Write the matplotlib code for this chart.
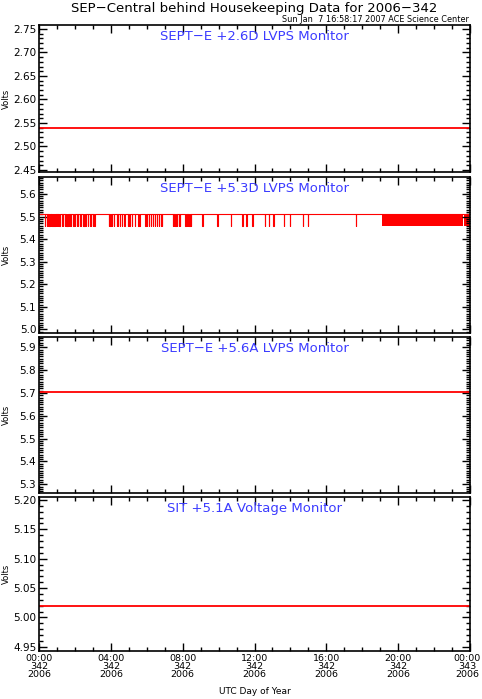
#!/usr/bin/env python3
# SEP-Central behind housekeeping voltages, day 2006-342

import matplotlib
matplotlib.use('Agg')
import matplotlib.pyplot as plt
import matplotlib.transforms as mtransforms
import numpy as np
from matplotlib.ticker import MultipleLocator

# ---- data -------------------------------------------------------------
hours = [0.0, 24.0]

titles = ['SEPT\u2212E +2.6D LVPS Monitor',
          'SEPT\u2212E +5.3D LVPS Monitor',
          'SEPT\u2212E +5.6A LVPS Monitor',
          'SIT +5.1A Voltage Monitor']

ylims = [(2.4457, 2.7585), (4.984, 5.675), (5.262, 5.945), (4.943, 5.205)]
ymajor = [0.05, 0.1, 0.1, 0.05]
yminor = [0.01, 0.01, 0.01, 0.01]
yfmt = ['%.2f', '%.1f', '%.1f', '%.2f']

# flat monitors
level_26d = 2.54
level_56a = 5.705
level_51a = 5.02

# +5.3D monitor toggles between two readings
hi_53d = 5.513
lo_53d = 5.459
dip_width = 0.012  # hours
dip_times = [0.33, 0.42, 0.49, 0.58, 0.66, 0.74, 0.86, 0.93, 1.00, 1.07, 1.13,
             1.26, 1.33, 1.45, 1.52, 1.58, 1.65, 1.71, 1.78, 1.91, 1.99,
             2.10, 2.16, 2.29, 2.35, 2.47, 2.53, 2.62, 2.71, 2.84, 2.90,
             3.02, 3.09, 3.90, 3.97, 4.08, 4.19, 4.32, 4.38, 4.51, 4.60,
             4.76, 4.94, 5.03, 5.17, 5.36, 5.53, 5.59, 5.92, 6.02, 6.14,
             6.22, 6.33, 6.44, 6.57, 6.66, 6.77, 6.85, 7.45, 7.53, 7.59,
             7.70, 7.78, 7.84, 8.15, 8.23, 8.29, 8.38, 8.47, 9.10, 9.93,
             10.67, 11.33, 11.55, 11.88, 12.58, 12.82, 13.05, 13.65, 13.97,
             14.70, 14.99, 17.65]
# stretches where the reading flickers faster than the plot resolves
flicker_blocks = [(19.08, 19.44), (19.46, 19.72), (19.74, 20.55), (20.57, 21.30),
                  (21.32, 22.75), (22.77, 23.62), (23.64, 24.0)]

xtick_hours = [0, 4, 8, 12, 16, 20, 24]
xtick_labels = ['00:00\n342\n2006', '04:00\n342\n2006', '08:00\n342\n2006',
                '12:00\n342\n2006', '16:00\n342\n2006', '20:00\n342\n2006',
                '00:00\n343\n2006']

RED = '#ff0000'
BLUE = '#3c3cff'

W, H = 482, 699
fig = plt.figure(figsize=(W / 100, H / 100), dpi=100)

# panel extents in pixels (top, bottom)
left_px, right_px = 39, 470
panels_px = [(25, 172), (177, 333), (337, 493), (497, 651)]

axes = []
for i, (top, bot) in enumerate(panels_px):
    ax = fig.add_axes([left_px / W, 1 - bot / H, (right_px - left_px) / W, (bot - top) / H])
    ax.set_xlim(0, 24)
    ax.set_ylim(*ylims[i])
    ax.xaxis.set_major_locator(MultipleLocator(4))
    ax.xaxis.set_minor_locator(MultipleLocator(1))
    ax.yaxis.set_major_locator(MultipleLocator(ymajor[i]))
    ax.yaxis.set_minor_locator(MultipleLocator(yminor[i]))
    ax.yaxis.set_major_formatter(plt.FormatStrFormatter(yfmt[i]))
    ax.tick_params(which='both', direction='in', top=True, right=True,
                   width=1.0, labelsize=7.5, pad=2)
    ax.tick_params(which='major', length=5.5)
    ax.tick_params(which='minor', length=3)
    for sp in ax.spines.values():
        sp.set_linewidth(1.2)
    ax.set_ylabel('Volts', fontsize=6)
    ax.yaxis.set_label_coords(-0.064, 0.5)
    ax.annotate(titles[i], xy=(0.5, 1), xycoords='axes fraction',
                xytext=(0, -8), textcoords='offset points',
                ha='center', va='center', color=BLUE, fontsize=9.5)
    if i < 3:
        ax.tick_params(labelbottom=False)
    axes.append(ax)

# flat traces
axes[0].plot(hours, [level_26d, level_26d], color=RED, lw=1.3)
axes[2].plot(hours, [level_56a, level_56a], color=RED, lw=1.3)
axes[3].plot(hours, [level_51a, level_51a], color=RED, lw=1.3)

# +5.3D trace as a step series
t = [0.0]
v = [hi_53d]
for d in dip_times:
    t += [d, d + dip_width]
    v += [lo_53d, hi_53d]
t.append(24.0)
v.append(hi_53d)
axes[1].plot(t, v, color=RED, lw=0.8, drawstyle='steps-post')
for a, b in flicker_blocks:
    axes[1].fill_between([a, b], lo_53d, hi_53d, color=RED, lw=0, antialiased=False)

axes[3].set_xticks(xtick_hours)
axes[3].set_xticklabels(xtick_labels, fontsize=6.8, linespacing=0.85)
axes[3].set_xlabel('UTC Day of Year', fontsize=6.5, labelpad=6)

# last label sits at the figure edge; nudge it in a little so it isn't clipped
last = axes[3].get_xticklabels()[-1]
last.set_transform(last.get_transform() +
                   mtransforms.ScaledTranslation(-3 / 100, 0, fig.dpi_scale_trans))

fig.text((left_px + right_px) / 2 / W, 1 - 8.5 / H,
         'SEP\u2212Central behind Housekeeping Data for 2006\u2212342',
         ha='center', va='center', fontsize=9.5)
fig.text(469 / W, 1 - 23.5 / H, 'Sun Jan  7 16:58:17 2007 ACE Science Center',
         ha='right', va='bottom', fontsize=5.9)

fig.savefig('out.png', dpi=100)
